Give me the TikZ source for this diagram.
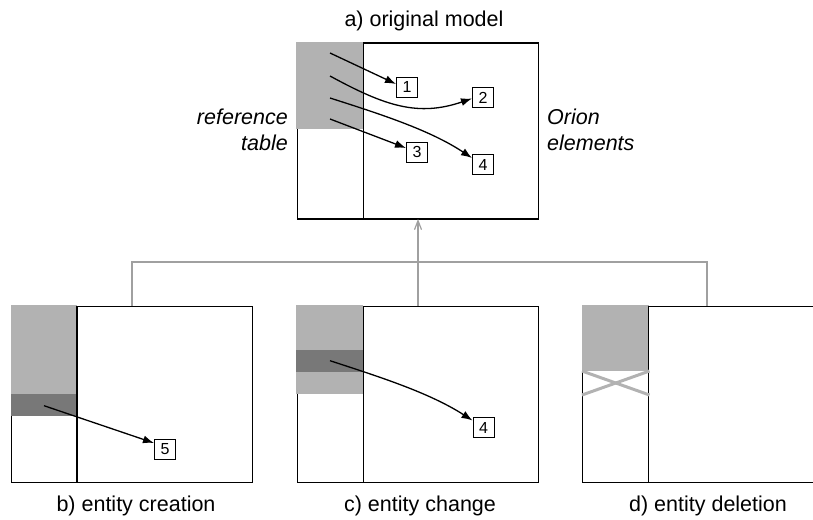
\documentclass[tikz,border=0pt]{standalone}
\usepackage{fontspec}
\setmainfont{Liberation Sans}
\usetikzlibrary{arrows.meta}
\definecolor{lightgr}{HTML}{B2B2B2}
\definecolor{darkgr}{HTML}{787878}
\definecolor{linkgr}{HTML}{A0A0A0}
\begin{document}
\begin{tikzpicture}[x=1pt,y=-1pt,
  modelbox/.style={draw=black, line width=1.4pt, minimum width=241pt, minimum height=176pt, inner sep=0pt, outer sep=0pt},
  divider/.style={draw=black, line width=1.4pt},
  numbox/.style={draw=black, line width=1pt, fill=white, minimum width=21pt, minimum height=20pt, inner sep=0pt, font=\fontsize{16}{16}\selectfont},
  arr/.style={line width=1.3pt, -{Latex[length=11pt,width=8pt]}},
  link/.style={draw=linkgr, line width=1.2pt},
  lbl/.style={font=\fontsize{21.5}{25.5}\selectfont, inner sep=0pt},
  ilbl/.style={font=\fontsize{21.5}{25.5}\selectfont\itshape, inner sep=0pt},
  cross/.style={draw=lightgr, line width=3pt}
]
\useasboundingbox (0,0) rectangle (813,519);
\clip (0,0) rectangle (813,519);

% model frames
\node[modelbox] (A) at (418,131) {};
\node[modelbox] (B) at (132,394.2) {};
\node[modelbox] (C) at (418,394.2) {};
\node[modelbox] (D) at (703.2,394.2) {};

% gray fills (cover the frame lines)
\fill[lightgr] (296.3,42.3) rectangle (363,129);
\fill[lightgr] (11,305.3) rectangle (77.3,394);
\fill[darkgr] (11,394) rectangle (77.3,416);
\fill[lightgr] (296.3,305.3) rectangle (363,394);
\fill[darkgr] (296.3,350) rectangle (363,372);
\fill[lightgr] (582,305.3) rectangle (648.7,371);

% table dividers
\draw[divider] ([xshift=66pt]A.north west) -- ([xshift=66pt]A.south west);
\draw[divider] ([xshift=65.6pt]B.north west) -- ([xshift=65.6pt]B.south west);
\draw[divider] ([xshift=66pt]C.north west) -- ([xshift=66pt]C.south west);
\draw[divider] ([xshift=66pt]D.north west) -- ([xshift=66pt]D.south west);

% deletion cross
\draw[cross] (582,371) -- (649.5,395);
\draw[cross] (582,395) -- (649.5,371);

% element boxes
\node[numbox] (n1) at (407,87) {1};
\node[numbox] (n2) at (483,97.5) {2};
\node[numbox] (n3) at (417,152) {3};
\node[numbox] (n4) at (483,164.5) {4};
\node[numbox] (n5) at (165,449.5) {5};
\node[numbox] (n6) at (483.5,427.5) {4};

% arrow starts
\coordinate (s1) at (330,53);
\coordinate (s2) at (330,76);
\coordinate (s3) at (330,98);
\coordinate (s4) at (330,119);
\coordinate (s5) at (44,405.7);
\coordinate (s6) at (330,360.7);

\draw[arr] (s1) -- ([yshift=3pt]n1.west);
\draw[arr] (s2) .. controls (385,106) and (418,117) .. ([yshift=-1pt]n2.west);
\draw[arr] (s4) -- ([yshift=4pt]n3.west);
\draw[arr] (s3) .. controls (380,114) and (430,130) .. ([yshift=-4pt]n4.north west);
\draw[arr] (s5) -- ([yshift=-4pt]n5.north west);
\draw[arr] (s6) .. controls (380,377) and (430,393) .. ([yshift=-3.5pt]n6.north west);

% connectors
\coordinate (hub) at (418,262);
\draw[link] (B.north) |- (hub) -| ([xshift=3.8pt]D.north);
\draw[link, -{Straight Barb[length=9pt,width=7pt]}] (C.north) -- (A.south);

% labels
\node[lbl, anchor=base] (ta) at (424,27) {a) original model};
\node[ilbl, anchor=east, align=right] (tr) at (288,130) {reference\\table};
\node[ilbl, anchor=west, align=left] (to) at (547,130) {Orion\\elements};
\node[lbl, anchor=base] (tb) at (136,511.7) {b) entity creation};
\node[lbl, anchor=base] (tc) at (420,511.7) {c) entity change};
\node[lbl, anchor=base] (td) at (708,511.7) {d) entity deletion};
\end{tikzpicture}
\end{document}
